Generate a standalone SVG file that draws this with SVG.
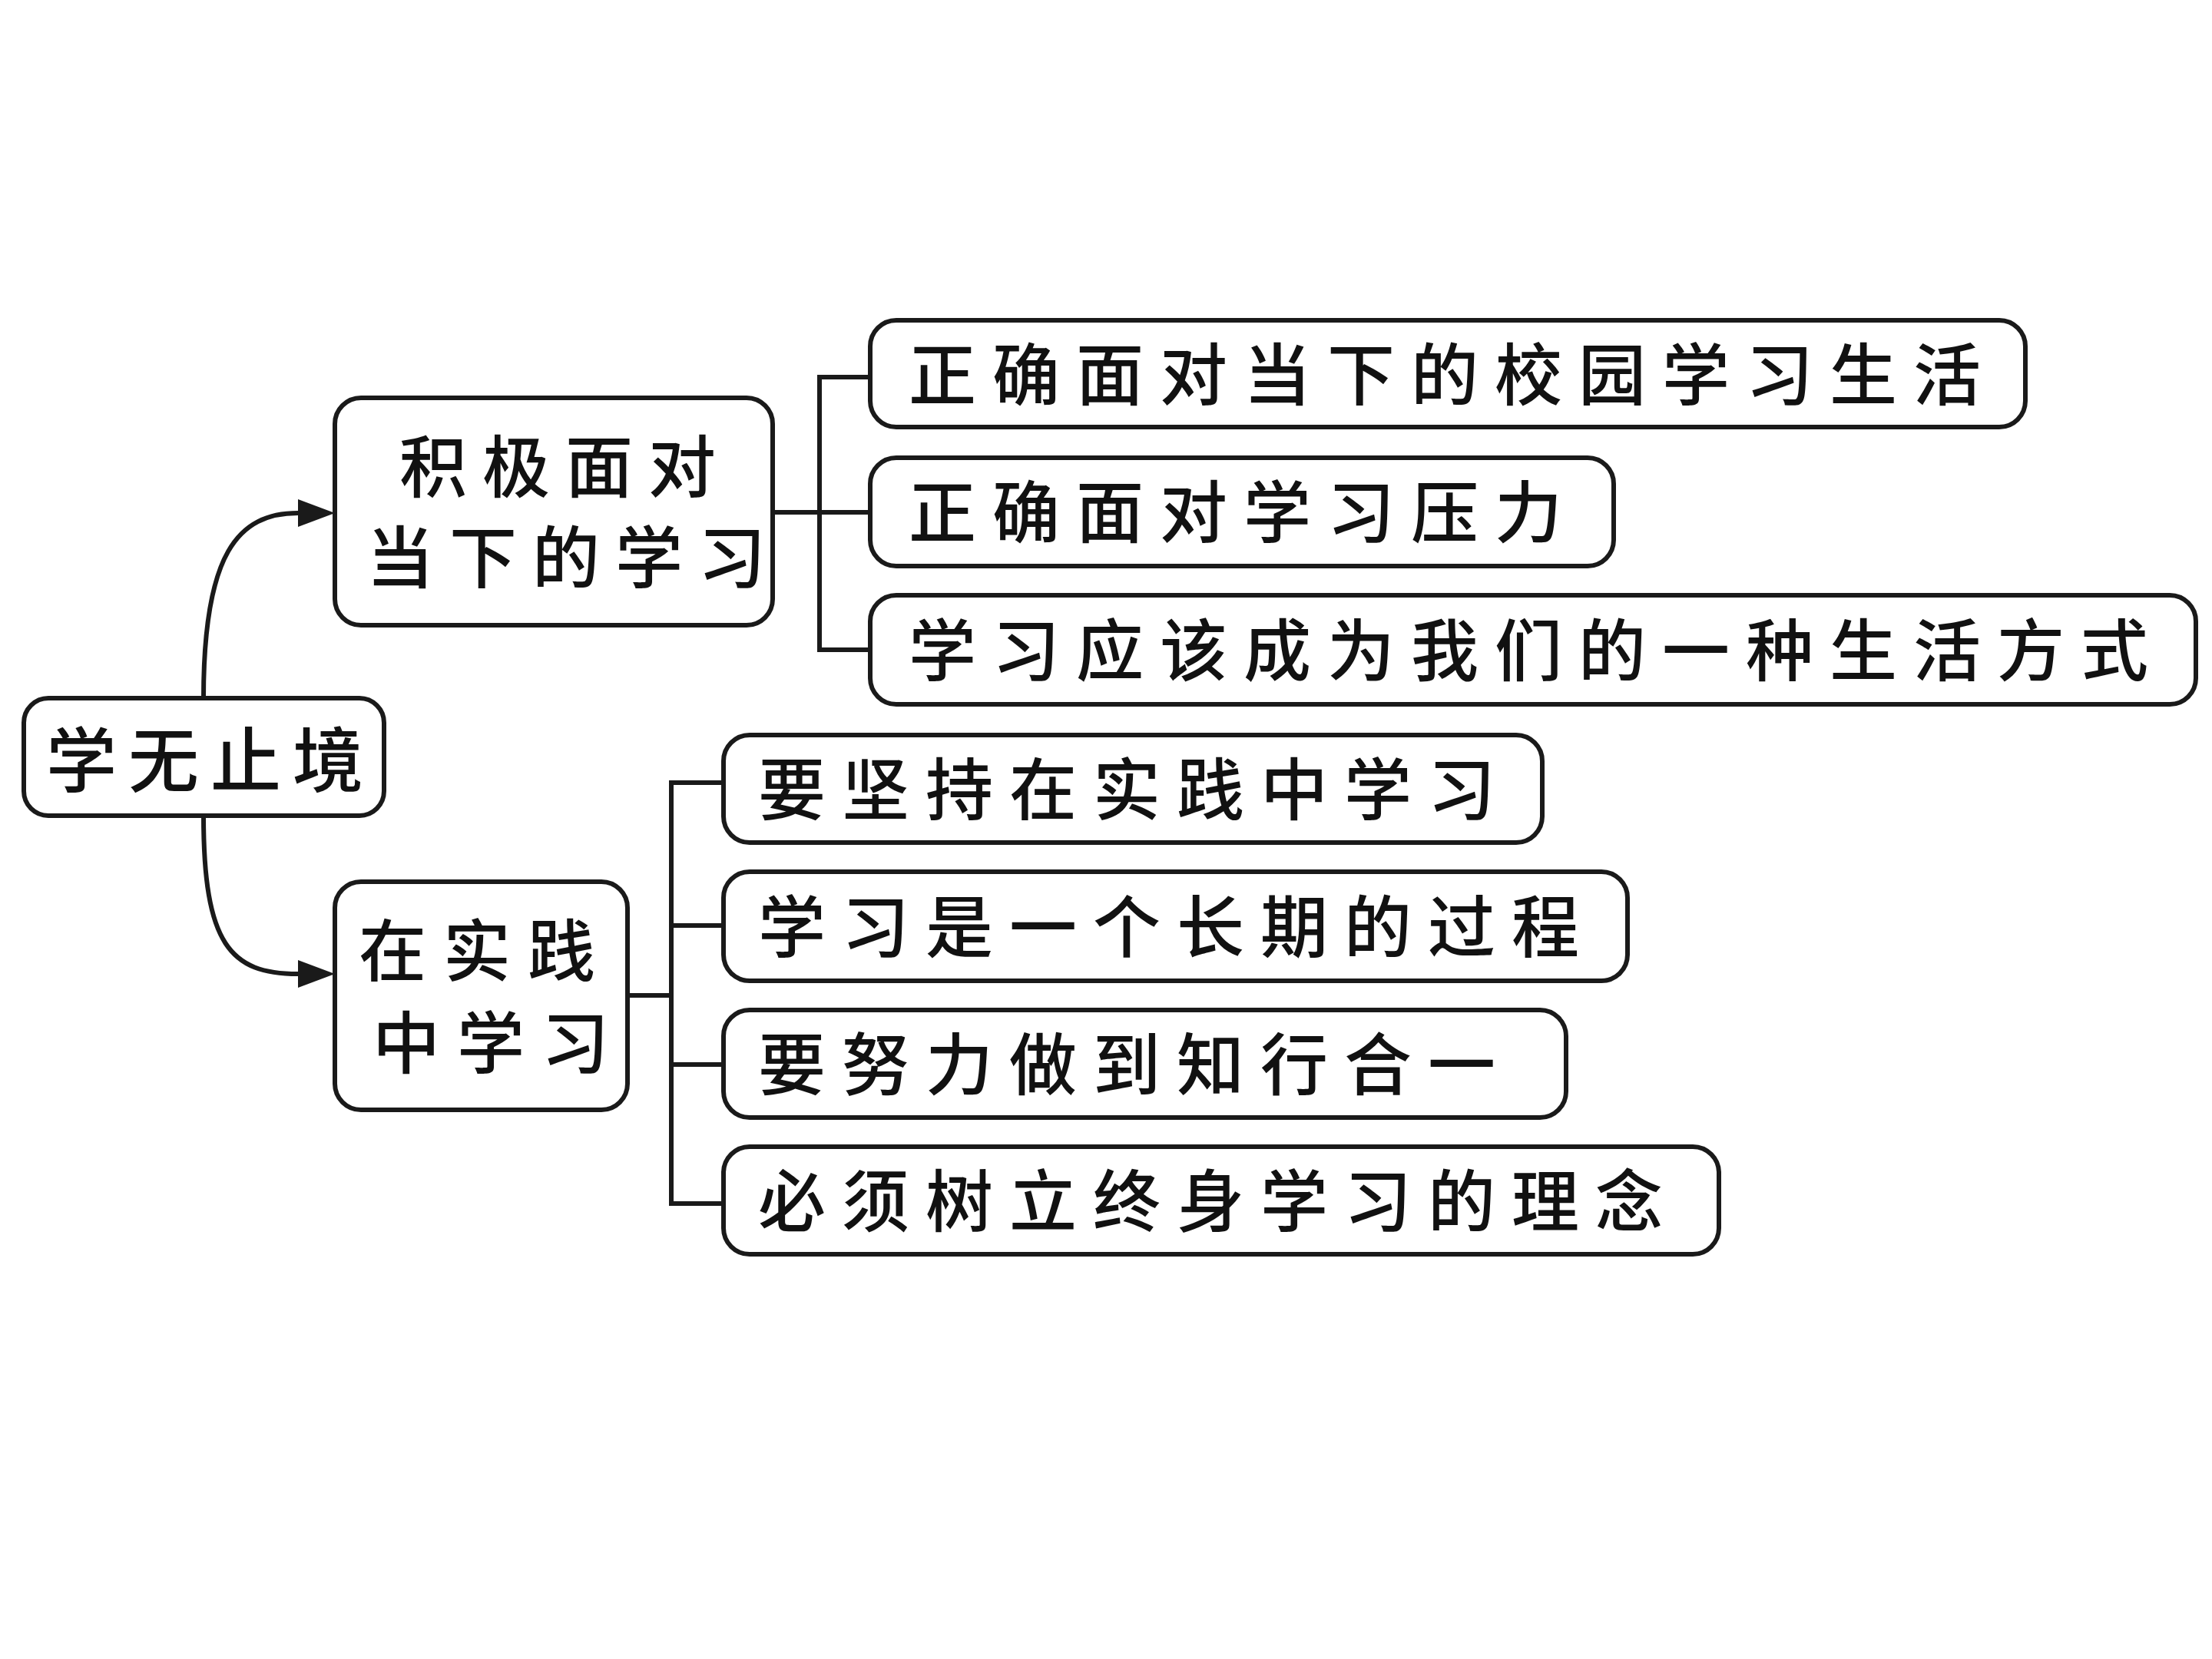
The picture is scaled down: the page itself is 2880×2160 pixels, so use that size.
<svg xmlns="http://www.w3.org/2000/svg" width="2880" height="2160" viewBox="0 0 2880 2160">
<defs>
<style>
.box{fill:#fff;stroke:#1a1a1a;stroke-width:6}
.ln{fill:none;stroke:#1a1a1a;stroke-width:6}
.t{font-family:"Noto Sans CJK SC","Noto Sans CJK TC",sans-serif;font-size:88px;font-weight:500;fill:#111;letter-spacing:21px}
.t2{font-family:"Noto Sans CJK SC","Noto Sans CJK TC",sans-serif;font-size:88px;font-weight:500;fill:#111;letter-spacing:20px}
.tr{font-family:"Noto Sans CJK SC","Noto Sans CJK TC",sans-serif;font-size:92px;font-weight:500;fill:#111;letter-spacing:15px}
</style>
<marker id="ah" markerUnits="userSpaceOnUse" markerWidth="60" markerHeight="40" refX="0" refY="18" orient="auto">
<path d="M0,0 L48,18 L0,36 Z" fill="#1a1a1a"/>
</marker>
</defs>
<rect width="2880" height="2160" fill="#fff"/>
<g id="connectors">
<path class="ln" d="M265,909 C265,720 310,668 388,668" marker-end="url(#ah)"/>
<path class="ln" d="M265,1062 C265,1230 300,1268 388,1268" marker-end="url(#ah)"/>
<path class="ln" d="M1006,667 H1067 M1133,491 H1067 V846 H1133 M1067,667 H1133"/>
<path class="ln" d="M817,1296 H874 M942,1019 H874 V1567 H942 M874,1205 H942 M874,1386 H942"/>
</g>
<g id="root">
<rect class="box" x="31" y="909" width="469" height="153" rx="32"/>
<text class="tr" x="60" y="1024">学无止境</text>
</g>
<g id="nodeA">
<rect class="box" x="436" y="518" width="570" height="296" rx="34"/>
<text class="t2" x="520" y="640">积极面对</text>
<text class="t2" x="477" y="758">当下的学习</text>
</g>
<g id="nodeB">
<rect class="box" x="436" y="1148" width="381" height="297" rx="34"/>
<text class="t" x="467" y="1270" style="letter-spacing:22px">在实践</text>
<text class="t" x="485" y="1390" style="letter-spacing:22px">中学习</text>
</g>
<g id="a1">
<rect class="box" x="1133" y="417" width="1504" height="139" rx="34"/>
<text class="t" x="1183" y="520">正确面对当下的校园学习生活</text>
</g>
<g id="a2">
<rect class="box" x="1133" y="596" width="968" height="141" rx="34"/>
<text class="t" x="1183" y="699">正确面对学习压力</text>
</g>
<g id="a3">
<rect class="box" x="1133" y="775" width="1726" height="142" rx="34"/>
<text class="t" x="1183" y="879">学习应该成为我们的一种生活方式</text>
</g>
<g id="b1">
<rect class="box" x="942" y="957" width="1066" height="140" rx="34"/>
<text class="t" x="987" y="1060">要坚持在实践中学习</text>
</g>
<g id="b2">
<rect class="box" x="942" y="1135" width="1177" height="142" rx="34"/>
<text class="t" x="987" y="1239">学习是一个长期的过程</text>
</g>
<g id="b3">
<rect class="box" x="942" y="1315" width="1097" height="140" rx="34"/>
<text class="t" x="987" y="1418">要努力做到知行合一</text>
</g>
<g id="b4">
<rect class="box" x="942" y="1493" width="1296" height="140" rx="34"/>
<text class="t" x="987" y="1596">必须树立终身学习的理念</text>
</g>
</svg>
